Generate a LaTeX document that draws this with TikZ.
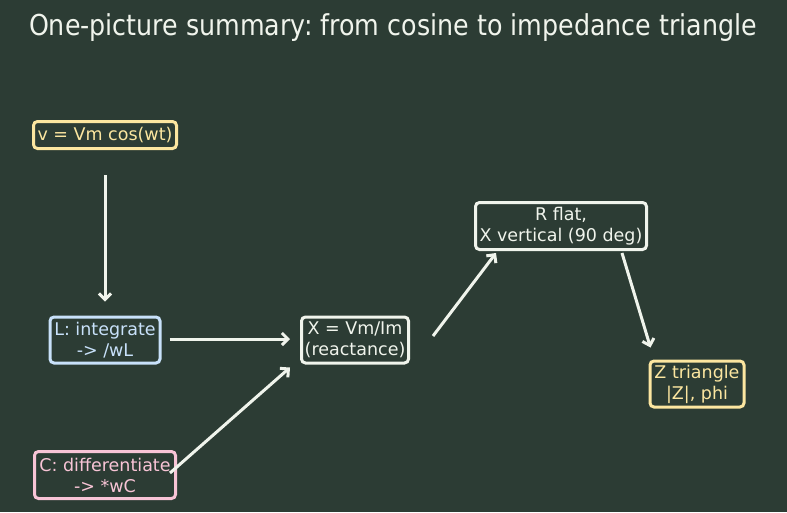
\documentclass[tikz,border=0pt]{standalone}
\usepackage{fontspec}
\setmainfont{DejaVu Sans}
\newfontfamily\titlefont[FakeStretch=0.88]{DejaVu Sans}
\usetikzlibrary{arrows.meta,positioning}
\definecolor{bgdark}{RGB}{44,60,52}
\definecolor{ipyellow}{RGB}{252,230,160}
\definecolor{ipblue}{RGB}{200,225,250}
\definecolor{ippink}{RGB}{248,196,214}
\definecolor{ipwhite}{RGB}{240,244,236}
\tikzset{
  sbox/.style={draw=#1, text=#1, fill=bgdark, rounded corners=4pt, line width=3pt,
               font=\fontsize{17.5}{21}\selectfont, align=center, inner sep=2pt},
  flow/.style={-{Straight Barb[length=6pt,width=12pt,line width=3pt]}, draw=ipwhite,
               line width=3pt},
}
\frenchspacing
\begin{document}
\begin{tikzpicture}[x=1pt, y=-1pt]
\fill[bgdark] (0,0) rectangle (787,512);
\useasboundingbox (0,0) rectangle (787,512);
% title
\node[text=ipwhite, font=\titlefont\fontsize{28.8}{32}\selectfont] (title) at (393,28) {One-picture summary: from cosine to impedance triangle};

% left column
\node[sbox=ipyellow, minimum width=143pt, minimum height=27pt] (vsrc) at (105,135) {v = Vm cos(wt)};
\node[sbox=ipblue, minimum width=110pt, minimum height=46pt] (ind) at (105,340) {L: integrate\\-> /wL};
\node[sbox=ippink, minimum width=141pt, minimum height=47pt] (cap) at (105,475) {C: differentiate\\-> *wC};

% middle and right
\node[sbox=ipwhite, minimum width=107pt, minimum height=46pt] (react) at (355,340) {X = Vm/Im\\(reactance)};
\node[sbox=ipwhite, minimum width=171pt, minimum height=47pt] (geom) at (561,226) {R flat,\\X vertical (90 deg)};
\node[sbox=ipyellow, minimum width=94pt, minimum height=46pt] (ztri) at (697,384) {Z triangle\\|Z|, phi};

% connectors
\draw[flow] ([yshift=-25pt]vsrc.south) -- ([yshift=14pt]ind.north);
\draw[flow] ([xshift=8pt,yshift=1pt]ind.east) -- ([xshift=-10pt,yshift=1pt]react.west);
\draw[flow] ([xshift=-7pt,yshift=2pt]cap.east) -- ([xshift=-10pt,yshift=-3pt]react.south west);
\draw[flow] ([xshift=23pt,yshift=4pt]react.east) -- ([xshift=22pt,yshift=-2pt]geom.south west);
\draw[flow] ([xshift=-26pt,yshift=-2pt]geom.south east) -- ([xshift=2pt,yshift=12pt]ztri.north west);
\end{tikzpicture}
\end{document}
